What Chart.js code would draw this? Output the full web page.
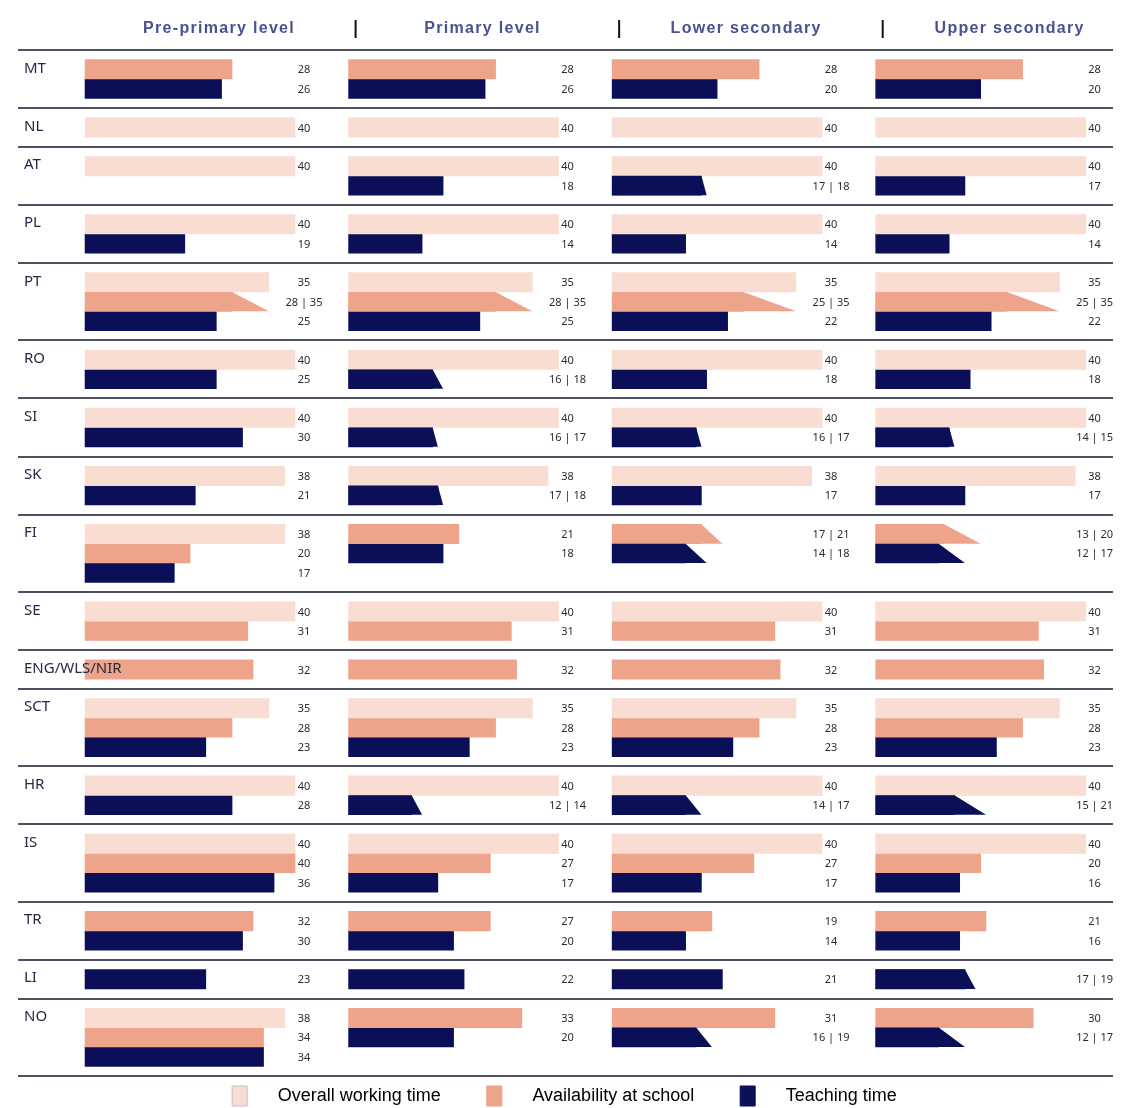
<!DOCTYPE html>
<html>
<head>
<meta charset="utf-8">
<title>Teachers' working time</title>
<script src="https://cdn.jsdelivr.net/npm/chart.js@4.4.1/dist/chart.umd.min.js"></script>
<style>
    html, body { margin: 0; padding: 0; background: #fff; overflow: hidden; }
    canvas { display: block; }
</style>
</head>
<body>
<canvas id="chart" width="1129" height="1116"></canvas>
<script>
// Categorias
const countries = ['MT', 'NL', 'AT', 'PL', 'PT', 'RO', 'SI', 'SK', 'FI', 'SE', 'ENG/WLS/NIR', 'SCT', 'HR', 'IS', 'TR', 'LI', 'NO'];
const levels = ['Pre-primary level', 'Primary level', 'Lower secondary', 'Upper secondary'];
const seriesNames = ['Overall working time', 'Availability at school', 'Teaching time'];

// Overall working time (hours/week), one array per level
const overallPre   = [null, 40, 40, 40, 35, 40, 40, 38, 38, 40, null, 35, 40, 40, null, null, 38];
const overallPrim  = [null, 40, 40, 40, 35, 40, 40, 38, null, 40, null, 35, 40, 40, null, null, null];
const overallLower = [null, 40, 40, 40, 35, 40, 40, 38, null, 40, null, 35, 40, 40, null, null, null];
const overallUpper = [null, 40, 40, 40, 35, 40, 40, 38, null, 40, null, 35, 40, 40, null, null, null];

// Availability at school - [min, max] where a range is given
const availPre   = [28, null, null, null, [28, 35], null, null, null, 20, 31, 32, 28, null, 40, 32, null, 34];
const availPrim  = [28, null, null, null, [28, 35], null, null, null, 21, 31, 32, 28, null, 27, 27, null, 33];
const availLower = [28, null, null, null, [25, 35], null, null, null, [17, 21], 31, 32, 28, null, 27, 19, null, 31];
const availUpper = [28, null, null, null, [25, 35], null, null, null, [13, 20], 31, 32, 28, null, 20, 21, null, 30];

// Teaching time
const teachPre   = [26, null, null, 19, 25, 25, 30, 21, 17, null, null, 23, 28, 36, 30, 23, 34];
const teachPrim  = [26, null, 18, 14, 25, [16, 18], [16, 17], [17, 18], 18, null, null, 23, [12, 14], 17, 20, 22, 20];
const teachLower = [20, null, [17, 18], 14, 22, 18, [16, 17], 17, [14, 18], null, null, 23, [14, 17], 17, 14, 21, [16, 19]];
const teachUpper = [20, null, 17, 14, 22, 18, [14, 15], 17, [12, 17], null, null, 23, [15, 21], 16, 16, [17, 19], [12, 17]];

const overall = [overallPre, overallPrim, overallLower, overallUpper];
const avail = [availPre, availPrim, availLower, availUpper];
const teach = [teachPre, teachPrim, teachLower, teachUpper];
const seriesData = [overall, avail, teach];

// estilos
const seriesColors = ['#f9ddd3', '#eea38b', '#0b0f58'];
const legendBorders = ['#c9bfbb', '#e8a089', '#0b0f58'];
const PANEL_SPAN = 50.2;   // distance between the four panels, in x units
const LABEL_AT = 41.7;     // centre of the value labels, from panel start
const X_MIN = -16.2;
const X_MAX = 198.85;

function lo(v) { return Array.isArray(v) ? v[0] : v; }
function hi(v) { return Array.isArray(v) ? v[1] : v; }

// how many bar slots each country row needs (most bars in any panel)
const rowBars = countries.map(function (c, i) {
    return Math.max.apply(null, levels.map(function (l, k) {
        return seriesData.filter(function (s) { return s[k][i] != null; }).length;
    }));
});
const rowStart = [];
let acc = 0;
rowBars.forEach(function (n) {
    rowStart.push(acc);
    acc += n + 1;   // half a slot of padding above and below
});
const yMax = acc;

// one dataset per level and series
const datasets = [];
levels.forEach(function (lvl, k) {
    seriesData.forEach(function (s, si) {
        const points = [];
        countries.forEach(function (c, i) {
            const v = s[k][i];
            if (v == null) return;
            let slot = 0;
            for (let j = 0; j < si; j++) {
                if (seriesData[j][k][i] != null) slot++;
            }
            points.push({
                y: rowStart[i] + 1 + slot,
                x: [k * PANEL_SPAN, k * PANEL_SPAN + lo(v)],
                value: v,
                panel: k
            });
        });
        datasets.push({
            label: seriesNames[si] + ' - ' + lvl,
            data: points,
            backgroundColor: seriesColors[si],
            borderWidth: 0,
            grouped: false,
            barPercentage: 1,
            categoryPercentage: 1
        });
    });
});

// desenha trapezios, linhas, textos
const decorPlugin = {
    id: 'decor',
    afterDatasetsDraw: function (chart) {
        const ctx = chart.ctx;
        const xs = chart.scales.x;
        ctx.save();
        chart.data.datasets.forEach(function (ds, di) {
            const meta = chart.getDatasetMeta(di);
            ds.data.forEach(function (p, idx) {
                if (!Array.isArray(p.value)) return;
                // range: top edge ends at min, bottom edge at max
                const el = meta.data[idx];
                const top = el.y - el.height / 2;
                const bottom = el.y + el.height / 2;
                const xHi = xs.getPixelForValue(p.panel * PANEL_SPAN + hi(p.value));
                ctx.fillStyle = ds.backgroundColor;
                ctx.beginPath();
                ctx.moveTo(el.base, top);
                ctx.lineTo(el.x, top);
                ctx.lineTo(xHi, bottom);
                ctx.lineTo(el.base, bottom);
                ctx.closePath();
                ctx.fill();
            });
        });
        ctx.restore();
    },
    afterDraw: function (chart) {
        const ctx = chart.ctx;
        const xs = chart.scales.x;
        const ys = chart.scales.y;
        ctx.save();

        // separator lines
        ctx.strokeStyle = '#4f5062';
        ctx.lineWidth = 2;
        rowStart.concat([yMax]).forEach(function (r) {
            const py = Math.round(ys.getPixelForValue(r));
            ctx.beginPath();
            ctx.moveTo(18, py);
            ctx.lineTo(1113, py);
            ctx.stroke();
        });

        // headers
        ctx.textAlign = 'center';
        ctx.textBaseline = 'middle';
        ctx.fillStyle = '#4a5092';
        ctx.font = 'bold 16px "Liberation Sans", Arial, sans-serif';
        if ('letterSpacing' in ctx) ctx.letterSpacing = '1.3px';
        levels.forEach(function (lvl, k) {
            const x0 = xs.getPixelForValue(k * PANEL_SPAN);
            ctx.fillText(lvl, x0 + 134, 29);
            if (k > 0) {
                ctx.strokeStyle = '#111';
                ctx.lineWidth = 2;
                ctx.beginPath();
                ctx.moveTo(x0 + 7, 20);
                ctx.lineTo(x0 + 7, 38);
                ctx.stroke();
            }
        });
        if ('letterSpacing' in ctx) ctx.letterSpacing = '0px';

        // country labels
        ctx.textAlign = 'left';
        ctx.fillStyle = '#262942';
        ctx.font = '15px "Noto Sans", sans-serif';
        countries.forEach(function (c, i) {
            ctx.fillText(c, 24, ys.getPixelForValue(rowStart[i] + 1) - 1);
        });

        // value labels
        ctx.textAlign = 'center';
        ctx.fillStyle = '#2b2b33';
        ctx.font = '11px "Noto Sans", sans-serif';
        chart.data.datasets.forEach(function (ds) {
            ds.data.forEach(function (p) {
                const txt = Array.isArray(p.value) ? p.value[0] + ' | ' + p.value[1] : String(p.value);
                ctx.fillText(txt, xs.getPixelForValue(p.panel * PANEL_SPAN + LABEL_AT), ys.getPixelForValue(p.y) + 1);
            });
        });
        ctx.restore();
    }
};

const ctx = document.getElementById('chart').getContext('2d');
const chart = new Chart(ctx, {
    type: 'bar',
    data: { datasets: datasets },
    options: {
        indexAxis: 'y',
        responsive: false,
        animation: false,
        events: [],
        layout: { padding: { top: 50, left: 0, right: 0, bottom: 0 } },
        scales: {
            x: { type: 'linear', min: X_MIN, max: X_MAX, display: false },
            y: { type: 'linear', min: 0, max: yMax, reverse: true, offset: false, display: false }
        },
        plugins: {
            tooltip: { enabled: false },
            legend: {
                position: 'bottom',
                labels: {
                    boxWidth: 15,
                    boxHeight: 20,
                    padding: 10,
                    color: '#34418a',
                    font: { family: '"Liberation Sans", Arial, sans-serif', size: 18 },
                    generateLabels: function () {
                        return seriesNames.map(function (name, i) {
                            return {
                                text: '\u2003\u2009' + name + (i < seriesNames.length - 1 ? '\u2003\u2003' : ''),
                                fillStyle: seriesColors[i],
                                strokeStyle: legendBorders[i],
                                lineWidth: 1,
                                hidden: false
                            };
                        });
                    }
                }
            }
        }
    },
    plugins: [decorPlugin]
});
</script>
</body>
</html>
